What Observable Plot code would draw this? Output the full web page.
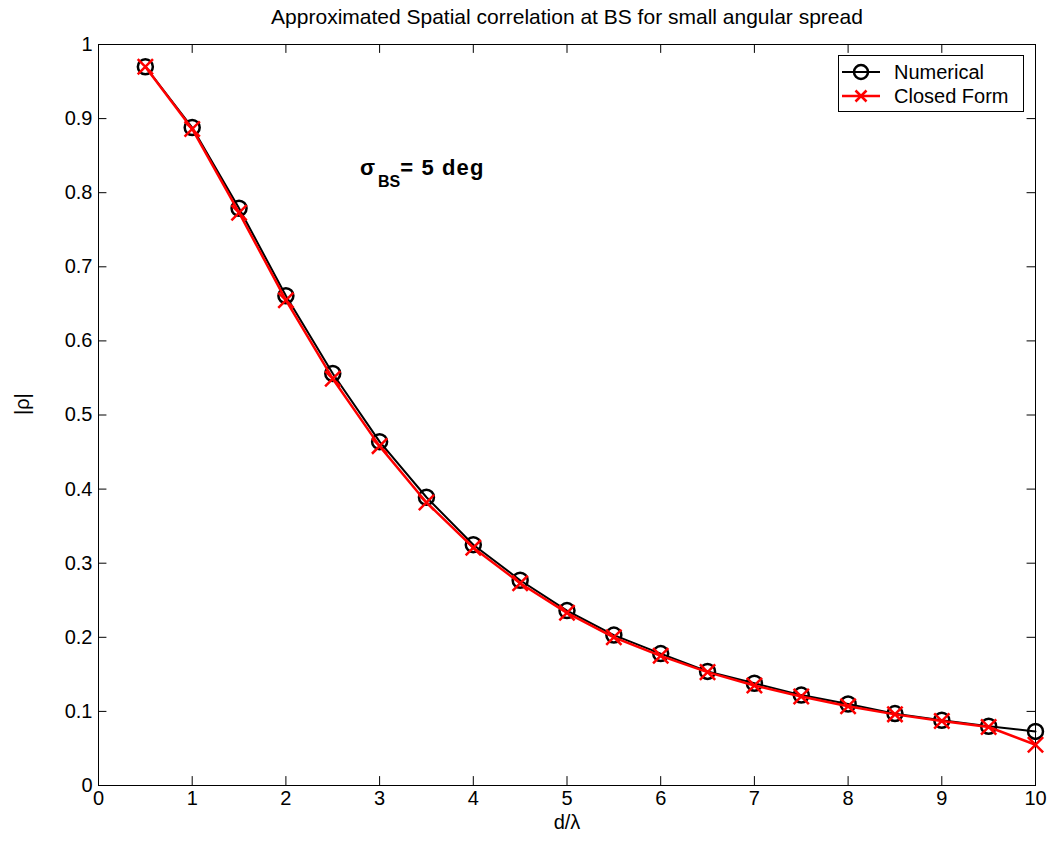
<!DOCTYPE html>
<html>
<head>
<meta charset="utf-8">
<script src="https://cdn.jsdelivr.net/npm/d3@7"></script>
<script src="https://cdn.jsdelivr.net/npm/@observablehq/plot@0.6"></script>
<style>
  html, body { margin: 0; padding: 0; background: #fff; }
  #wrap { position: relative; width: 1047px; height: 854px; font-family: "Liberation Sans", Arial, sans-serif; }
  #legend { position: absolute; left: 838px; top: 55px; width: 186px; height: 57px; border: 1px solid #000; background: #fff; box-sizing: border-box; font-size: 20px; }
  .row { position: absolute; left: 0; height: 24px; display: flex; align-items: center; }
  .row svg { margin-left: 3px; display: block; }
  .row span { margin-left: 12px; line-height: 24px; }
  #note { position: absolute; left: 360px; top: 156px; font-size: 22px; font-weight: bold; white-space: nowrap; line-height: 24px; }
  #note .sub { font-size: 16px; position: relative; top: 12px; margin-left: 3px; }
  #note .rest { letter-spacing: 1.1px; }
</style>
</head>
<body>
<div id="wrap"></div>
<script>
const dist = [0.5, 1, 1.5, 2, 2.5, 3, 3.5, 4, 4.5, 5, 5.5, 6, 6.5, 7, 7.5, 8, 8.5, 9, 9.5, 10];
const numerical = [0.970, 0.888, 0.779, 0.661, 0.556, 0.464, 0.389, 0.325, 0.277, 0.236, 0.203, 0.178, 0.154, 0.138, 0.122, 0.110, 0.097, 0.088, 0.080, 0.073];
const closedForm = [0.970, 0.886, 0.773, 0.655, 0.549, 0.458, 0.382, 0.321, 0.273, 0.233, 0.200, 0.175, 0.153, 0.135, 0.120, 0.107, 0.096, 0.087, 0.079, 0.055];
const xTicks = [0, 1, 2, 3, 4, 5, 6, 7, 8, 9, 10];
const yTicks = [0, 0.1, 0.2, 0.3, 0.4, 0.5, 0.6, 0.7, 0.8, 0.9, 1];
const titleText = "Approximated Spatial correlation at BS for small angular spread";
const xLabel = "d/λ";
const yLabel = "|ρ|";
const seriesNames = ["Numerical", "Closed Form"];

const numData = dist.map((d, i) => ({x: d, y: numerical[i]}));
const cfData = dist.map((d, i) => ({x: d, y: closedForm[i]}));

const chart = Plot.plot({
  width: 1047,
  height: 854,
  marginLeft: 98,
  marginRight: 12,
  marginTop: 44,
  marginBottom: 69,
  style: {fontFamily: "'Liberation Sans', Arial, sans-serif", fontSize: "20px", background: "#fff", color: "#000"},
  x: {domain: [0, 10], axis: null},
  y: {domain: [0, 1], axis: null},
  marks: [
    Plot.frame({stroke: "#000", strokeWidth: 1}),
    Plot.text(xTicks, {x: d => d, frameAnchor: "bottom", lineAnchor: "top", dy: 5, text: d => String(d), fontSize: 20, fill: "#000"}),
    Plot.text(yTicks, {y: d => d, frameAnchor: "left", textAnchor: "end", dx: -6, text: d => String(d), fontSize: 20, fill: "#000"}),
    Plot.ruleX(xTicks.slice(1, -1), {x: d => d, y1: 0, y2: 0.012, stroke: "#000"}),
    Plot.ruleX(xTicks.slice(1, -1), {x: d => d, y1: 1, y2: 0.988, stroke: "#000"}),
    Plot.ruleY(yTicks.slice(1, -1), {y: d => d, x1: 0, x2: 0.09, stroke: "#000"}),
    Plot.ruleY(yTicks.slice(1, -1), {y: d => d, x1: 10, x2: 9.91, stroke: "#000"}),
    Plot.line(numData, {x: "x", y: "y", stroke: "#000", strokeWidth: 2}),
    Plot.dot(numData, {x: "x", y: "y", r: 7.5, stroke: "#000", strokeWidth: 2.5, fill: "none"}),
    Plot.line(cfData, {x: "x", y: "y", stroke: "#ff0000", strokeWidth: 2.5}),
    Plot.dot(cfData, {x: "x", y: "y", r: 7, symbol: "times", stroke: "#ff0000", strokeWidth: 2.5, fill: "none"}),
    Plot.text([titleText], {frameAnchor: "top", dy: -27, lineAnchor: "middle", text: d => d, fontSize: 21, fill: "#000"}),
    Plot.text([xLabel], {frameAnchor: "bottom", dy: 37, lineAnchor: "middle", text: d => d, fontSize: 20, fill: "#000"}),
    Plot.text([yLabel], {frameAnchor: "left", dx: -76, rotate: -90, lineAnchor: "middle", text: d => d, fontSize: 20, fill: "#000"})
  ]
});

const wrap = document.getElementById("wrap");
wrap.appendChild(chart);

const legend = document.createElement("div");
legend.id = "legend";
legend.innerHTML = `
  <div class="row" style="top:4px">
    <svg width="40" height="20"><line x1="0" y1="10" x2="38" y2="10" stroke="#000" stroke-width="2"/><circle cx="19" cy="10" r="7" fill="none" stroke="#000" stroke-width="2.5"/></svg>
    <span>${seriesNames[0]}</span>
  </div>
  <div class="row" style="top:28px">
    <svg width="40" height="20"><line x1="0" y1="10" x2="38" y2="10" stroke="#f00" stroke-width="2.5"/><path d="M13.5,4.5L24.5,15.5M24.5,4.5L13.5,15.5" stroke="#f00" stroke-width="2.5"/></svg>
    <span>${seriesNames[1]}</span>
  </div>`;
wrap.appendChild(legend);

const note = document.createElement("div");
note.id = "note";
note.innerHTML = "σ<span class='sub'>BS</span><span class='rest'>= 5 deg</span>";
wrap.appendChild(note);
</script>
</body>
</html>
